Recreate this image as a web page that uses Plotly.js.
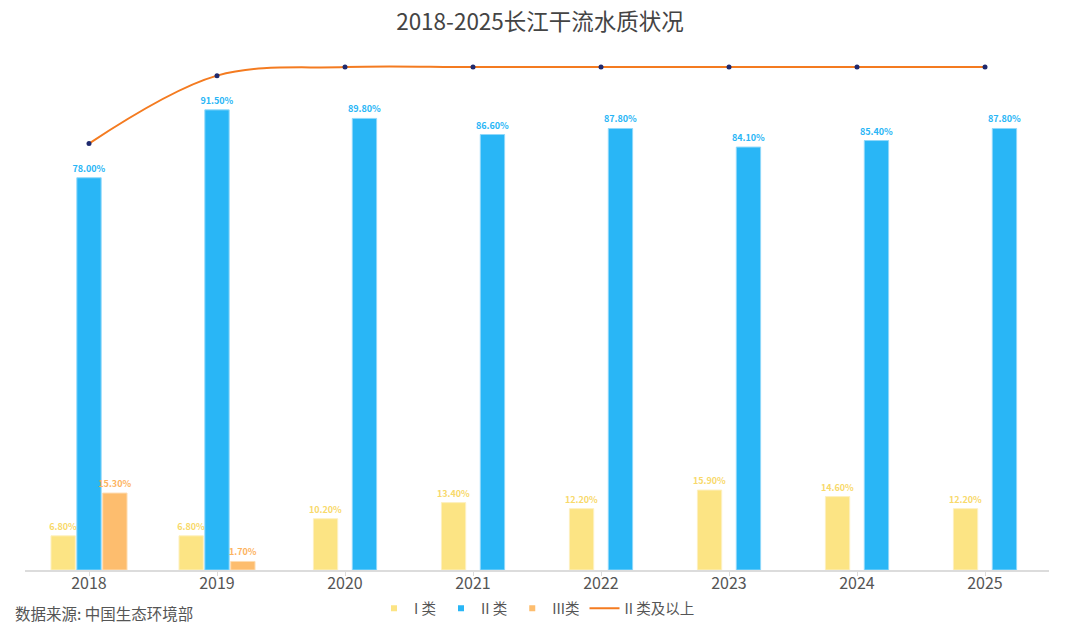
<!DOCTYPE html>
<html>
<head>
<meta charset="utf-8">
<script src="https://cdn.plot.ly/plotly-3.0.1.min.js"></script>
<style>
  html, body { margin: 0; padding: 0; background: #fff; }
  #chart { width: 1080px; height: 635px; }
</style>
</head>
<body>
<div id="chart"></div>
<script>
const years = ['2018', '2019', '2020', '2021', '2022', '2023', '2024', '2025'];
const class1 = [6.8, 6.8, 10.2, 13.4, 12.2, 15.9, 14.6, 12.2];
const class2 = [78.0, 91.5, 89.8, 86.6, 87.8, 84.1, 85.4, 87.8];
const class3 = [15.3, 1.7, null, null, null, null, null, null];
const class2Plus = [84.8, 98.3, 100, 100, 100, 100, 100, 100];

const FONT = '"Noto Sans CJK SC", "Noto Sans", sans-serif';
const W = 0.19;

// groups with a III类 bar hold three slots, the rest hold two with a wider gap
const has3 = class3.map(v => v != null);
const off1 = has3.map(h => h ? -1.5 * W - 0.012 : -W - 0.057);
const off2 = has3.map(h => h ? -0.5 * W : 0.057);
const off3 = has3.map(() => 0.5 * W + 0.012);
const widths = years.map(() => W);

function barTrace(name, y, offset, color, edge, textColor) {
  return {
    type: 'bar', name, x: years, y, offset, width: widths,
    marker: { color, line: { color: edge, width: 1 } },
    texttemplate: '%{y:.2f}%', textposition: 'outside', cliponaxis: false,
    constraintext: 'none',
    textfont: { family: FONT, size: 9, color: textColor, weight: 'bold' },
    hoverinfo: 'skip', showlegend: false,
  };
}

// small legend keys like the original
function legendKey(name, color) {
  return {
    type: 'scatter', mode: 'markers', name, x: [null], y: [null],
    marker: { color, size: 6, symbol: 'square' }, hoverinfo: 'skip',
  };
}

const traces = [
  barTrace('I 类', class1, off1, '#fce484', '#fdf0c0', '#f8d96a'),
  barTrace('II 类', class2, off2, '#29b6f6', '#8fd8fa', '#29b6f6'),
  barTrace('III类', class3, off3, '#fdbd6e', '#fedcb2', '#fdb35e'),
  {
    type: 'scatter', mode: 'lines+markers', name: 'II 类及以上', x: years, y: class2Plus,
    line: { color: '#f47b20', width: 2, shape: 'spline', smoothing: 1 },
    marker: { color: '#1f2a6e', size: 5 },
    hoverinfo: 'skip', showlegend: false,
  },
  legendKey('I 类', '#fce484'),
  legendKey('II 类', '#29b6f6'),
  legendKey('III类', '#fdbd6e'),
  {
    type: 'scatter', mode: 'lines', name: 'II 类及以上', x: [null], y: [null],
    line: { color: '#f47b20', width: 2 }, hoverinfo: 'skip',
  },
];

const layout = {
  width: 1080, height: 635,
  paper_bgcolor: '#fff', plot_bgcolor: '#fff',
  font: { family: FONT, color: '#555', size: 14 },
  margin: { l: 25, r: 31, t: 47, b: 64 },
  barmode: 'overlay',
  showlegend: true,
  title: {
    text: '2018-2025长江干流水质状况',
    font: { family: FONT, size: 22.5, color: '#444' },
    x: 0.5, xanchor: 'center', y: 0.965, yanchor: 'middle', yref: 'container',
  },
  xaxis: {
    type: 'category', range: [-0.5, 7.5],
    showline: true, linecolor: '#dcdcdc', linewidth: 1.5,
    ticks: 'outside', ticklen: 4, tickcolor: '#dcdcdc',
    ticklabelstandoff: -6,
    showgrid: false, zeroline: false,
    tickfont: { family: FONT, size: 16, color: '#555' },
    fixedrange: true,
  },
  yaxis: { range: [0, 104], visible: false, showgrid: false, zeroline: false, fixedrange: true },
  legend: {
    orientation: 'h', x: 0.5, xanchor: 'center', y: -0.071, yanchor: 'middle',
    font: { family: FONT, size: 14.5, color: '#555' },
    itemwidth: 30, traceorder: 'normal',
  },
  annotations: [{
    text: '数据来源: 中国生态环境部', xref: 'paper', yref: 'paper',
    x: -0.012, xanchor: 'left', y: -0.082, yanchor: 'middle', showarrow: false,
    font: { family: FONT, size: 15.5, color: '#555' },
  }],
};

Plotly.newPlot('chart', traces, layout, { displayModeBar: false, staticPlot: true });
</script>
</body>
</html>
